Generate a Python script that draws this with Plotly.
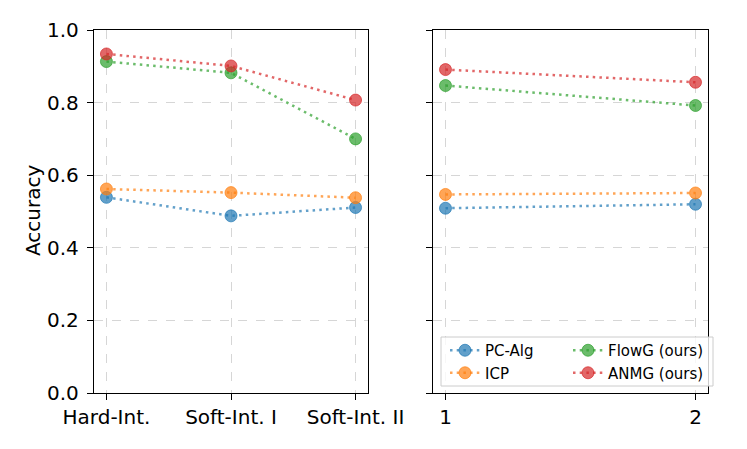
import plotly.graph_objects as go

# left panel: intervention types
int_types = ["Hard-Int.", "Soft-Int. I", "Soft-Int. II"]
pc_alg_int = [0.539, 0.488, 0.511]
icp_int = [0.562, 0.552, 0.538]
flowg_int = [0.913, 0.882, 0.700]
anmg_int = [0.934, 0.901, 0.807]

# right panel
right_x = [1, 2]
pc_alg_r = [0.509, 0.520]
icp_r = [0.547, 0.551]
flowg_r = [0.847, 0.792]
anmg_r = [0.891, 0.856]

y_ticks = [0.0, 0.2, 0.4, 0.6, 0.8, 1.0]

# name, colour (rgba, alpha 0.7), left values, right values, legend column
series = [
    ("PC-Alg", "rgba(31,119,180,0.7)", pc_alg_int, pc_alg_r, "legend"),
    ("ICP", "rgba(255,127,14,0.7)", icp_int, icp_r, "legend"),
    ("FlowG (ours)", "rgba(44,160,44,0.7)", flowg_int, flowg_r, "legend2"),
    ("ANMG (ours)", "rgba(214,39,40,0.7)", anmg_int, anmg_r, "legend2"),
]

# the page body has an 8px margin, so the figure is a bit smaller than the window
W, H, OFF = 731, 433, 8


def px(x):
    return (x - OFF) / W


def py(y):
    return 1 - (y - OFF) / H


fig = go.Figure()

for name, color, left_vals, right_vals, leg in series:
    style = dict(
        mode="lines+markers",
        line=dict(color=color, width=2.5, dash="2.5px,4.2px"),
        marker=dict(color=color, size=12, symbol="circle", line=dict(color=color, width=1)),
    )
    fig.add_trace(go.Scatter(x=list(range(len(int_types))), y=left_vals, name=name,
                             showlegend=False, xaxis="x", yaxis="y", **style))
    fig.add_trace(go.Scatter(x=right_x, y=right_vals, name=name, legend=leg,
                             xaxis="x2", yaxis="y2", **style))

axis_common = dict(
    showline=True, linecolor="black", linewidth=1.3, mirror=True,
    ticks="outside", ticklen=6, tickwidth=1.3, tickcolor="black",
    showgrid=True, gridcolor="#d6d6d6", gridwidth=1, griddash="dash",
    zeroline=False, automargin=False,
    tickfont=dict(family="DejaVu Sans", size=20, color="black"),
)

legend_common = dict(
    orientation="v", xanchor="left", yanchor="top",
    bgcolor="rgba(0,0,0,0)", borderwidth=0, tracegroupgap=0,
    font=dict(family="DejaVu Sans", size=15, color="black"),
)

fig.update_layout(
    width=W, height=H,
    margin=dict(l=0, r=0, t=0, b=0, autoexpand=False),
    paper_bgcolor="white", plot_bgcolor="white",
    font=dict(family="DejaVu Sans", color="black"),
    xaxis=dict(domain=[px(94), px(368)], range=[-0.1, 2.1],
               tickvals=list(range(len(int_types))), ticktext=int_types, **axis_common),
    yaxis=dict(domain=[py(393), py(30)], range=[0, 1],
               tickvals=y_ticks, tickformat=".1f", ticklabelstandoff=4, **axis_common),
    xaxis2=dict(domain=[px(433), px(708)], range=[0.95, 2.05],
                tickvals=right_x, anchor="y2", **axis_common),
    yaxis2=dict(domain=[py(393), py(30)], range=[0, 1],
                tickvals=y_ticks, showticklabels=False, anchor="x2", **axis_common),
    legend=dict(x=px(445), y=py(334), **legend_common),
    legend2=dict(x=px(568), y=py(334), **legend_common),
    shapes=[dict(
        type="rect", xref="paper", yref="paper", layer="above",
        x0=px(441), x1=px(713), y0=py(386), y1=py(337),
        line=dict(color="#cccccc", width=1), fillcolor="rgba(255,255,255,0.8)",
    )],
    annotations=[dict(
        text="Accuracy", x=px(33), y=py(211), xref="paper", yref="paper",
        xanchor="center", yanchor="middle",
        textangle=-90, showarrow=False, font=dict(family="DejaVu Sans", size=20),
    )],
)

fig.write_html("out.html")
